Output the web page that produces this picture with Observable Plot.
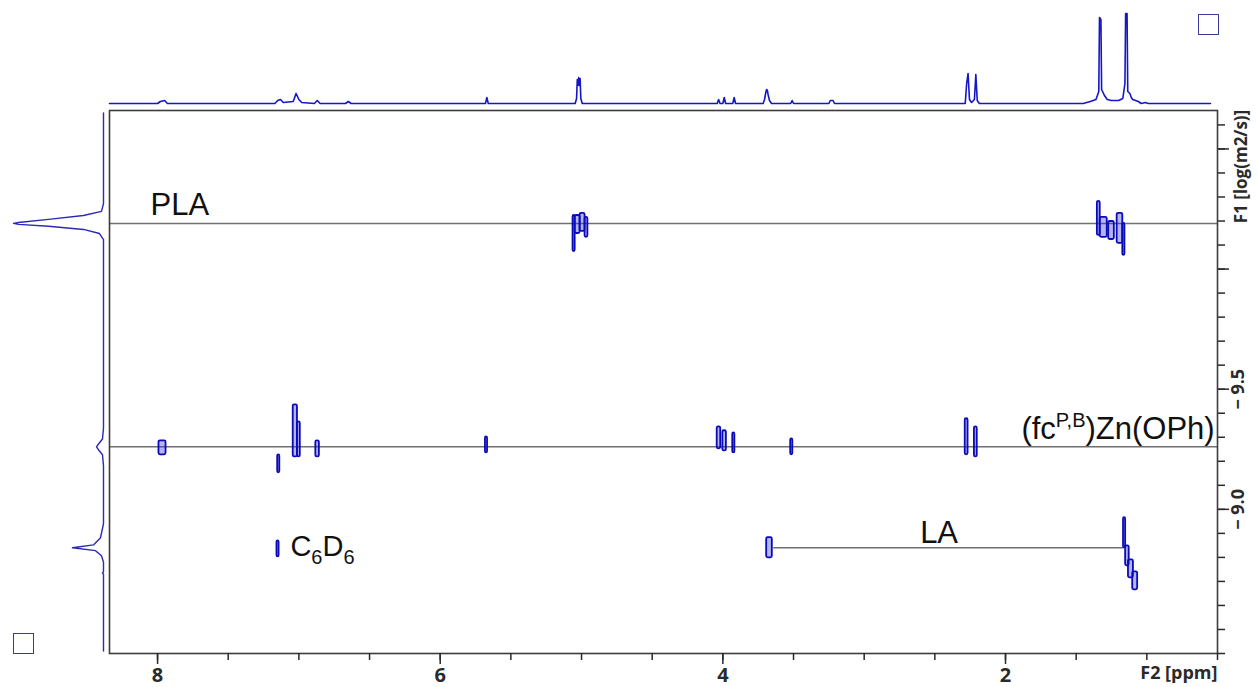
<!DOCTYPE html>
<html><head><meta charset="utf-8">
<script src="https://cdn.jsdelivr.net/npm/d3@7"></script>
<script src="https://cdn.jsdelivr.net/npm/@observablehq/plot@0.6"></script>
<style>
html,body{margin:0;padding:0;background:#fff;}
#wrap{position:relative;width:1257px;height:687px;overflow:hidden;background:#fff;}
#wrap svg{position:absolute;left:0;top:0;background:transparent;}
.box{position:absolute;width:19px;height:19px;border:1.6px solid #3a3a9e;}
</style></head><body><div id="wrap"></div>
<script>
// ---------- 1H projection on top (ppm, intensity) ----------
const topPpm = [8.34,8.00,7.98,7.95,7.93,7.17,7.15,7.13,7.11,7.04,7.02,7.00,6.98,6.89,6.87,6.85,6.67,6.65,6.63,
  5.68,5.67,5.66,5.045,5.035,5.03,5.025,5.02,5.015,5.01,5.005,4.995,
  4.04,4.03,4.02,4.00,3.99,3.98,3.93,3.92,3.91,3.715,3.705,3.695,3.69,3.685,3.68,3.67,3.655,
  3.52,3.51,3.50,3.25,3.24,3.22,3.21,2.285,2.275,2.265,2.255,2.24,2.22,2.21,2.20,2.185,
  1.45,1.40,1.36,1.34,1.335,1.325,1.32,1.30,1.28,1.25,1.20,1.17,1.155,1.15,1.14,1.135,1.12,1.11,1.10,1.08,1.06,1.04,1.01,0.99,0.55];
const topInt = [0,0,2,3,0,0,3,4,1,2,10,4,1,0,3,0,0,2,0,
  0,6,0,0,5,24,18,26,18,25,5,0,
  0,4,0,0,6,0,0,6,0,0,4,12,14,13,9,3,0,
  0,3,0,0,3,3,0,0,20,30,4,1,4,29,3,0,
  0,2,4,12,86,84,14,8,4,3,3,5,20,90,90,12,10,6,4,3,2,0,1,0,0];

// ---------- DOSY projection on the left (log D, intensity) ----------
const sideLogD = [-10.65,-10.273,-10.24,-10.223,-10.207,-10.194,-10.19,-10.186,-10.178,-10.165,-10.148,-10.123,
  -9.34,-9.293,-9.272,-9.26,-9.248,-9.227,-9.18,
  -8.94,-8.882,-8.852,-8.84,-8.828,-8.807,-8.78,-8.74,-8.735,-8.73,-8.41];
const sideInt = [0,0,2,20,55,85,90,85,55,20,4,0,
  0,1,5,7,5,1,0,
  0,3,10,31,8,2,0,0,1,0,0];

// ---------- species (horizontal diffusion lines) ----------
const speciesNames = ["PLA", "(fcP,B)Zn(OPh)", "LA"];
const speciesLogD = [-10.19, -9.26, -8.84];
const speciesFrom = [8.34, 8.34, 3.64];
const speciesTo = [0.5, 0.5, 1.16];

// ---------- 2D contours (ppm range, log D range) ----------
const contourPpm1 = [5.06,5.045,5.01,4.975, 1.35,1.33,1.27,1.21,1.17,
  7.99,7.15,7.04,7.01,6.88,5.68,4.04,4.00,3.93,3.52,2.285,2.22,
  3.69,1.165,1.15,1.13,1.10, 7.155];
const contourPpm2 = [5.045,5.01,4.975,4.955, 1.33,1.28,1.23,1.17,1.155,
  7.94,7.135,7.01,6.99,6.855,5.665,4.015,3.975,3.915,3.505,2.265,2.20,
  3.65,1.15,1.125,1.095,1.065, 7.14];
const contourLogD1 = [-10.223,-10.223,-10.232,-10.215, -10.282,-10.215,-10.198,-10.232,-10.19,
  -9.285,-9.227,-9.435,-9.364,-9.285,-9.302,-9.343,-9.327,-9.318,-9.293,-9.377,-9.343,
  -8.882,-8.965,-8.848,-8.79,-8.74, -8.869];
const contourLogD2 = [-10.073,-10.148,-10.157,-10.132, -10.14,-10.132,-10.123,-10.107,-10.057,
  -9.227,-9.152,-9.218,-9.218,-9.218,-9.235,-9.252,-9.243,-9.235,-9.227,-9.227,-9.218,
  -8.798,-8.84,-8.765,-8.715,-8.665, -8.802];

// ---------- axis ticks ----------
const xTicks = [8,7.5,7,6.5,6,5.5,5,4.5,4,3.5,3,2.5,2,1.5,1,0.5];
const xTickLabels = [8,6,4,2];
const yTicks = [-10.6,-10.5,-10.4,-10.3,-10.2,-10.1,-10.0,-9.9,-9.8,-9.7,-9.6,-9.5,-9.4,-9.3,-9.2,-9.1,-9.0,-8.9,-8.8,-8.7,-8.6,-8.5,-8.4];
const yMajorTicks = [-10.5,-10.0,-9.5,-9.0];
const yTickLabels = [-9.5,-9.0];

// ---------- annotations ----------
const annotText = ["PLA", "(fcP,B)Zn(OPh)", "LA", "C6D6"];
const annotPpm = [8.05, 0.52, 2.47, 7.06];
const annotLogD = [-10.19, -9.26, -8.84, -8.835];

// ---------- build tables ----------
const topData = topPpm.map((p,i)=>({ppm:p, int:topInt[i]}));
const sideData = sideLogD.map((d,i)=>({logD:d, int:sideInt[i]}));
const species = speciesNames.map((n,i)=>({name:n, logD:speciesLogD[i], from:speciesFrom[i], to:speciesTo[i]}));
const contours = contourPpm1.map((p,i)=>({x1:p, x2:contourPpm2[i], y1:contourLogD1[i], y2:contourLogD2[i]}));
const annots = annotText.map((t,i)=>({t, x:annotPpm[i], y:annotLogD[i]}));

const W = 1257, H = 687;
const xDom = [8.34, 0.5], yDom = [-8.40, -10.66];
const M = {l:109, r:40, t:110, b:34};
const blue = "#1616c4";
const axisFont = "'Open Sans', 'DejaVu Sans', sans-serif";
const labelFont = "'Liberation Sans', Arial, sans-serif";
const lblSize = 31;

const main = Plot.plot({
  width: W, height: H, marginLeft: M.l, marginRight: M.r, marginTop: M.t, marginBottom: M.b,
  x: {domain: xDom},
  y: {domain: yDom},
  style: {fontFamily: axisFont, background: "transparent", color: "#2a2a2a", overflow: "visible"},
  marks: [
    Plot.ruleY(species, {y: "logD", x1: "from", x2: "to", stroke: "#707070", strokeWidth: 1.5}),
    Plot.rect(contours, {x1: "x1", x2: "x2", y1: "y1", y2: "y2", fill: "#2a2ad8", fillOpacity: 0.35, stroke: "#0a0ab8", strokeWidth: 1.8, rx: 1.5}),
    Plot.frame({stroke: "#3c3c3c", strokeWidth: 1.6}),
    Plot.axisX({ticks: xTicks, tickSize: 7, tickFormat: () => "", label: null, strokeWidth: 1.5}),
    Plot.axisX({ticks: xTickLabels, tickSize: 11, tickPadding: 3, label: null, fontSize: 20, fontWeight: "bold", strokeWidth: 1.5, tickFormat: d => String(d)}),
    Plot.axisY({anchor: "right", ticks: yTicks, tickSize: 7, tickFormat: () => "", label: null, strokeWidth: 1.5}),
    Plot.axisY({anchor: "right", ticks: yMajorTicks, tickSize: 11, tickFormat: () => "", label: null, strokeWidth: 1.5}),
    Plot.axisY({anchor: "right", ticks: yTickLabels, tickSize: 0, tickPadding: 14, label: null, fontSize: 18, fontWeight: "bold",
      rotate: -90, textAnchor: "middle", lineAnchor: "top", tickFormat: d => "\u2212 " + Math.abs(d).toFixed(1)}),
    Plot.text(["F2 [ppm]"], {frameAnchor: "bottom-right", dy: 20, textAnchor: "end", lineAnchor: "middle", fontSize: 18, fontWeight: "bold"}),
    Plot.text(["F1 [log(m2/s)]"], {frameAnchor: "top-right", dx: 17, dy: 56, rotate: -90, textAnchor: "middle", lineAnchor: "top", fontSize: 17, fontWeight: "bold"}),
    Plot.text(annots.filter(a => a.t === "PLA"), {x: "x", y: "y", text: "t", textAnchor: "start", lineAnchor: "bottom", dy: -8, fontSize: lblSize, fontFamily: labelFont, fill: "#111"}),
    Plot.text(annots.filter(a => a.t.startsWith("(fc")), {x: "x", y: "y", text: "t", textAnchor: "end", lineAnchor: "bottom", dy: -8, fontSize: lblSize, fontFamily: labelFont, fill: "#111"}),
    Plot.text(annots.filter(a => a.t === "LA"), {x: "x", y: "y", text: "t", textAnchor: "middle", lineAnchor: "bottom", dy: -5, fontSize: lblSize, fontFamily: labelFont, fill: "#111"}),
    Plot.text(annots.filter(a => a.t === "C6D6"), {x: "x", y: "y", text: "t", textAnchor: "start", lineAnchor: "middle", dy: -2, fontSize: 29, fontFamily: labelFont, fill: "#111"})
  ]
});

const topPlot = Plot.plot({
  width: W, height: 110, marginLeft: M.l, marginRight: M.r, marginTop: 11, marginBottom: 7,
  x: {domain: xDom, axis: null},
  y: {domain: [0, 92], axis: null},
  style: {background: "transparent"},
  marks: [Plot.line(topData, {x: "ppm", y: "int", stroke: blue, strokeWidth: 1.6})]
});

const sidePlot = Plot.plot({
  width: 110, height: H, marginLeft: 13, marginRight: 7, marginTop: M.t, marginBottom: M.b,
  x: {domain: [90, 0], axis: null},
  y: {domain: yDom, axis: null},
  style: {background: "transparent"},
  marks: [Plot.line(sideData, {x: "int", y: "logD", stroke: "#2a2ab4", strokeWidth: 1.4})]
});

// sub/superscripts in the annotation labels
main.querySelectorAll("text").forEach(t => {
  if (t.textContent === "C6D6") {
    t.innerHTML = 'C<tspan dy="8" font-size="20">6</tspan><tspan dy="-8">D</tspan><tspan dy="8" font-size="20">6</tspan>';
  } else if (t.textContent === "(fcP,B)Zn(OPh)") {
    t.innerHTML = '(fc<tspan dy="-12" font-size="20">P,B</tspan><tspan dy="12">)Zn(OPh)</tspan>';
  }
});

const wrap = document.getElementById("wrap");
wrap.appendChild(topPlot);
wrap.appendChild(sidePlot);
wrap.appendChild(main);
[[1198,14],[13,633]].forEach(([l,t]) => {
  const b = document.createElement("div");
  b.className = "box"; b.style.left = l + "px"; b.style.top = t + "px";
  wrap.appendChild(b);
});
</script>
</body></html>
